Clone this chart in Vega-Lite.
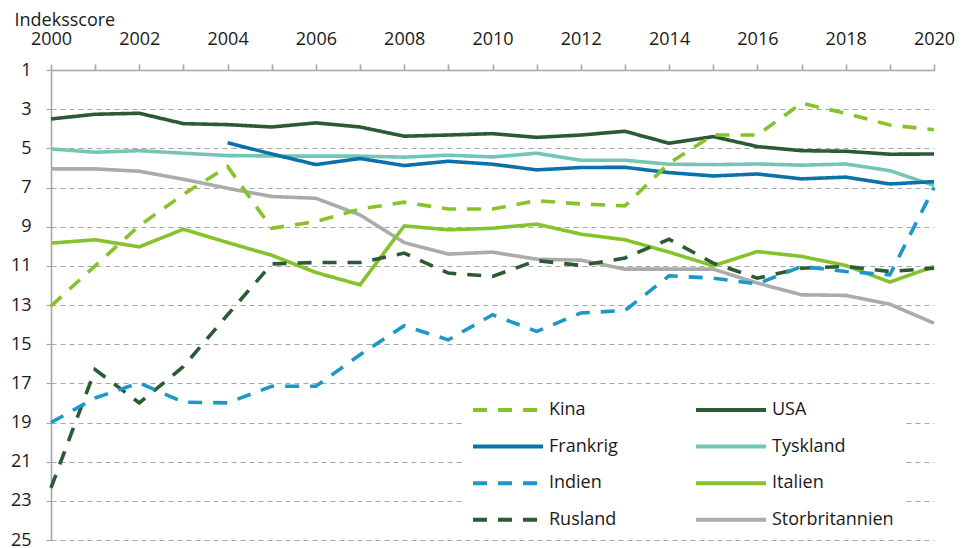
{
  "$schema": "https://vega.github.io/schema/vega-lite/v6.json",
  "width": 883,
  "height": 470,
  "autosize": {"type": "none"},
  "padding": {"left": 51, "top": 70, "right": 31, "bottom": 8},
  "background": "white",
  "config": {
    "font": "Open Sans",
    "view": {"stroke": null},
    "axis": {"labelFont": "Open Sans", "labelFontSize": 18, "labelColor": "#1a1a1a", "titleFont": "Open Sans"}
  },
  "datasets": {
    "scores": [
      {"land": "USA", "year": 2000, "v": 3.5}, {"land": "USA", "year": 2001, "v": 3.26}, {"land": "USA", "year": 2002, "v": 3.21}, {"land": "USA", "year": 2003, "v": 3.74}, {"land": "USA", "year": 2004, "v": 3.79}, {"land": "USA", "year": 2005, "v": 3.91}, {"land": "USA", "year": 2006, "v": 3.7}, {"land": "USA", "year": 2007, "v": 3.91}, {"land": "USA", "year": 2008, "v": 4.38}, {"land": "USA", "year": 2009, "v": 4.32}, {"land": "USA", "year": 2010, "v": 4.25}, {"land": "USA", "year": 2011, "v": 4.44}, {"land": "USA", "year": 2012, "v": 4.32}, {"land": "USA", "year": 2013, "v": 4.13}, {"land": "USA", "year": 2014, "v": 4.74}, {"land": "USA", "year": 2015, "v": 4.4}, {"land": "USA", "year": 2016, "v": 4.91}, {"land": "USA", "year": 2017, "v": 5.12}, {"land": "USA", "year": 2018, "v": 5.15}, {"land": "USA", "year": 2019, "v": 5.3}, {"land": "USA", "year": 2020, "v": 5.29},
      {"land": "Tyskland", "year": 2000, "v": 5.03}, {"land": "Tyskland", "year": 2001, "v": 5.2}, {"land": "Tyskland", "year": 2002, "v": 5.12}, {"land": "Tyskland", "year": 2003, "v": 5.25}, {"land": "Tyskland", "year": 2004, "v": 5.37}, {"land": "Tyskland", "year": 2005, "v": 5.39}, {"land": "Tyskland", "year": 2006, "v": 5.4}, {"land": "Tyskland", "year": 2007, "v": 5.4}, {"land": "Tyskland", "year": 2008, "v": 5.45}, {"land": "Tyskland", "year": 2009, "v": 5.35}, {"land": "Tyskland", "year": 2010, "v": 5.44}, {"land": "Tyskland", "year": 2011, "v": 5.25}, {"land": "Tyskland", "year": 2012, "v": 5.61}, {"land": "Tyskland", "year": 2013, "v": 5.61}, {"land": "Tyskland", "year": 2014, "v": 5.81}, {"land": "Tyskland", "year": 2015, "v": 5.83}, {"land": "Tyskland", "year": 2016, "v": 5.8}, {"land": "Tyskland", "year": 2017, "v": 5.86}, {"land": "Tyskland", "year": 2018, "v": 5.8}, {"land": "Tyskland", "year": 2019, "v": 6.14}, {"land": "Tyskland", "year": 2020, "v": 6.9},
      {"land": "Frankrig", "year": 2004, "v": 4.71}, {"land": "Frankrig", "year": 2005, "v": 5.29}, {"land": "Frankrig", "year": 2006, "v": 5.83}, {"land": "Frankrig", "year": 2007, "v": 5.52}, {"land": "Frankrig", "year": 2008, "v": 5.88}, {"land": "Frankrig", "year": 2009, "v": 5.66}, {"land": "Frankrig", "year": 2010, "v": 5.81}, {"land": "Frankrig", "year": 2011, "v": 6.1}, {"land": "Frankrig", "year": 2012, "v": 5.98}, {"land": "Frankrig", "year": 2013, "v": 5.97}, {"land": "Frankrig", "year": 2014, "v": 6.24}, {"land": "Frankrig", "year": 2015, "v": 6.41}, {"land": "Frankrig", "year": 2016, "v": 6.31}, {"land": "Frankrig", "year": 2017, "v": 6.56}, {"land": "Frankrig", "year": 2018, "v": 6.47}, {"land": "Frankrig", "year": 2019, "v": 6.82}, {"land": "Frankrig", "year": 2020, "v": 6.7},
      {"land": "Storbritannien", "year": 2000, "v": 6.05}, {"land": "Storbritannien", "year": 2001, "v": 6.05}, {"land": "Storbritannien", "year": 2002, "v": 6.17}, {"land": "Storbritannien", "year": 2003, "v": 6.58}, {"land": "Storbritannien", "year": 2004, "v": 7.04}, {"land": "Storbritannien", "year": 2005, "v": 7.46}, {"land": "Storbritannien", "year": 2006, "v": 7.55}, {"land": "Storbritannien", "year": 2007, "v": 8.4}, {"land": "Storbritannien", "year": 2008, "v": 9.81}, {"land": "Storbritannien", "year": 2009, "v": 10.4}, {"land": "Storbritannien", "year": 2010, "v": 10.3}, {"land": "Storbritannien", "year": 2011, "v": 10.66}, {"land": "Storbritannien", "year": 2012, "v": 10.71}, {"land": "Storbritannien", "year": 2013, "v": 11.17}, {"land": "Storbritannien", "year": 2014, "v": 11.17}, {"land": "Storbritannien", "year": 2015, "v": 11.17}, {"land": "Storbritannien", "year": 2016, "v": 11.88}, {"land": "Storbritannien", "year": 2017, "v": 12.48}, {"land": "Storbritannien", "year": 2018, "v": 12.51}, {"land": "Storbritannien", "year": 2019, "v": 12.96}, {"land": "Storbritannien", "year": 2020, "v": 13.93},
      {"land": "Kina", "year": 2000, "v": 13.05}, {"land": "Kina", "year": 2001, "v": 11.0}, {"land": "Kina", "year": 2002, "v": 8.95}, {"land": "Kina", "year": 2003, "v": 7.35}, {"land": "Kina", "year": 2004, "v": 5.93}, {"land": "Kina", "year": 2005, "v": 9.08}, {"land": "Kina", "year": 2006, "v": 8.74}, {"land": "Kina", "year": 2007, "v": 8.1}, {"land": "Kina", "year": 2008, "v": 7.75}, {"land": "Kina", "year": 2009, "v": 8.1}, {"land": "Kina", "year": 2010, "v": 8.1}, {"land": "Kina", "year": 2011, "v": 7.67}, {"land": "Kina", "year": 2012, "v": 7.84}, {"land": "Kina", "year": 2013, "v": 7.94}, {"land": "Kina", "year": 2014, "v": 5.76}, {"land": "Kina", "year": 2015, "v": 4.32}, {"land": "Kina", "year": 2016, "v": 4.32}, {"land": "Kina", "year": 2017, "v": 2.7}, {"land": "Kina", "year": 2018, "v": 3.21}, {"land": "Kina", "year": 2019, "v": 3.81}, {"land": "Kina", "year": 2020, "v": 4.05},
      {"land": "Italien", "year": 2000, "v": 9.84}, {"land": "Italien", "year": 2001, "v": 9.67}, {"land": "Italien", "year": 2002, "v": 10.03}, {"land": "Italien", "year": 2003, "v": 9.13}, {"land": "Italien", "year": 2004, "v": 9.81}, {"land": "Italien", "year": 2005, "v": 10.46}, {"land": "Italien", "year": 2006, "v": 11.34}, {"land": "Italien", "year": 2007, "v": 11.97}, {"land": "Italien", "year": 2008, "v": 8.96}, {"land": "Italien", "year": 2009, "v": 9.16}, {"land": "Italien", "year": 2010, "v": 9.08}, {"land": "Italien", "year": 2011, "v": 8.87}, {"land": "Italien", "year": 2012, "v": 9.38}, {"land": "Italien", "year": 2013, "v": 9.67}, {"land": "Italien", "year": 2014, "v": 10.3}, {"land": "Italien", "year": 2015, "v": 11.0}, {"land": "Italien", "year": 2016, "v": 10.27}, {"land": "Italien", "year": 2017, "v": 10.52}, {"land": "Italien", "year": 2018, "v": 10.98}, {"land": "Italien", "year": 2019, "v": 11.83}, {"land": "Italien", "year": 2020, "v": 11.03},
      {"land": "Rusland", "year": 2000, "v": 22.34}, {"land": "Rusland", "year": 2001, "v": 16.3}, {"land": "Rusland", "year": 2002, "v": 18.0}, {"land": "Rusland", "year": 2003, "v": 16.14}, {"land": "Rusland", "year": 2004, "v": 13.5}, {"land": "Rusland", "year": 2005, "v": 10.9}, {"land": "Rusland", "year": 2006, "v": 10.83}, {"land": "Rusland", "year": 2007, "v": 10.83}, {"land": "Rusland", "year": 2008, "v": 10.35}, {"land": "Rusland", "year": 2009, "v": 11.37}, {"land": "Rusland", "year": 2010, "v": 11.54}, {"land": "Rusland", "year": 2011, "v": 10.73}, {"land": "Rusland", "year": 2012, "v": 10.98}, {"land": "Rusland", "year": 2013, "v": 10.6}, {"land": "Rusland", "year": 2014, "v": 9.64}, {"land": "Rusland", "year": 2015, "v": 10.86}, {"land": "Rusland", "year": 2016, "v": 11.63}, {"land": "Rusland", "year": 2017, "v": 11.12}, {"land": "Rusland", "year": 2018, "v": 11.03}, {"land": "Rusland", "year": 2019, "v": 11.29}, {"land": "Rusland", "year": 2020, "v": 11.12},
      {"land": "Indien", "year": 2000, "v": 19.0}, {"land": "Indien", "year": 2001, "v": 17.75}, {"land": "Indien", "year": 2002, "v": 16.98}, {"land": "Indien", "year": 2003, "v": 17.96}, {"land": "Indien", "year": 2004, "v": 18.0}, {"land": "Indien", "year": 2005, "v": 17.15}, {"land": "Indien", "year": 2006, "v": 17.15}, {"land": "Indien", "year": 2007, "v": 15.54}, {"land": "Indien", "year": 2008, "v": 14.06}, {"land": "Indien", "year": 2009, "v": 14.78}, {"land": "Indien", "year": 2010, "v": 13.5}, {"land": "Indien", "year": 2011, "v": 14.35}, {"land": "Indien", "year": 2012, "v": 13.41}, {"land": "Indien", "year": 2013, "v": 13.28}, {"land": "Indien", "year": 2014, "v": 11.51}, {"land": "Indien", "year": 2015, "v": 11.63}, {"land": "Indien", "year": 2016, "v": 11.92}, {"land": "Indien", "year": 2017, "v": 11.03}, {"land": "Indien", "year": 2018, "v": 11.29}, {"land": "Indien", "year": 2019, "v": 11.46}, {"land": "Indien", "year": 2020, "v": 7.0}
    ]
  },
  "data": {"name": "scores"},
  "mark": {"type": "line", "strokeWidth": 3.6, "strokeCap": "butt", "strokeJoin": "miter"},
  "encoding": {
    "x": {
      "field": "year", "type": "quantitative",
      "scale": {"domain": [2000, 2020], "nice": false, "zero": false},
      "axis": {
        "orient": "top", "title": null, "grid": false,
        "values": [2000, 2001, 2002, 2003, 2004, 2005, 2006, 2007, 2008, 2009, 2010, 2011, 2012, 2013, 2014, 2015, 2016, 2017, 2018, 2019, 2020],
        "format": "d", "labelExpr": "datum.value % 2 == 0 ? datum.label : ''",
        "labelFlush": false, "labelOverlap": false,
        "domainColor": "#a6a6a6", "domainWidth": 1.6,
        "tickColor": "#a6a6a6", "tickWidth": 1.6, "tickSize": 6,
        "labelPadding": 16
      }
    },
    "y": {
      "field": "v", "type": "quantitative",
      "scale": {"domain": [1, 25], "reverse": true, "nice": false, "zero": false},
      "axis": {
        "title": "Indeksscore", "titleAngle": 0, "titleX": -37, "titleY": -45,
        "titleAlign": "left", "titleBaseline": "alphabetic",
        "titleFontSize": 18, "titleFontWeight": "normal", "titleColor": "#1a1a1a",
        "values": [1, 3, 5, 7, 9, 11, 13, 15, 17, 19, 21, 23, 25],
        "grid": true, "gridColor": "#a6a6a6", "gridDash": [5, 4], "gridWidth": 1.2,
        "domainColor": "#a6a6a6", "domainWidth": 1.6,
        "tickColor": "#a6a6a6", "tickWidth": 1.2, "tickSize": 6, "tickDash": [5, 4],
        "labelPadding": 14
      }
    },
    "color": {
      "field": "land", "type": "nominal",
      "scale": {
        "domain": ["Kina", "Frankrig", "Indien", "Rusland", "USA", "Tyskland", "Italien", "Storbritannien"],
        "range": ["#86c22a", "#0a72a8", "#1b98c8", "#2b5a34", "#2b5a34", "#72c6b6", "#86c22a", "#ababab"]
      },
      "legend": {
        "title": null, "orient": "none", "legendX": 411, "legendY": 320, "columns": 2,
        "fillColor": "white", "padding": 11,
        "symbolType": "M-7,0H7", "symbolSize": 100, "symbolStrokeWidth": 4, "symbolOffset": 26,
        "labelFont": "Open Sans", "labelFontSize": 18, "labelColor": "#1a1a1a", "labelOffset": 32,
        "columnPadding": 70, "rowPadding": 18.6, "labelLimit": 300
      }
    },
    "strokeDash": {
      "field": "land", "type": "nominal",
      "scale": {
        "domain": ["Kina", "Frankrig", "Indien", "Rusland", "USA", "Tyskland", "Italien", "Storbritannien"],
        "range": [[14, 11], [1, 0], [14, 11], [14, 11], [1, 0], [1, 0], [1, 0], [1, 0]]
      },
      "legend": {
        "title": null, "orient": "none", "legendX": 411, "legendY": 320, "columns": 2,
        "fillColor": "white", "padding": 11,
        "symbolType": "M-7,0H7", "symbolSize": 100, "symbolStrokeWidth": 4, "symbolOffset": 26,
        "labelFont": "Open Sans", "labelFontSize": 18, "labelColor": "#1a1a1a", "labelOffset": 32,
        "columnPadding": 70, "rowPadding": 18.6, "labelLimit": 300
      }
    }
  }
}
